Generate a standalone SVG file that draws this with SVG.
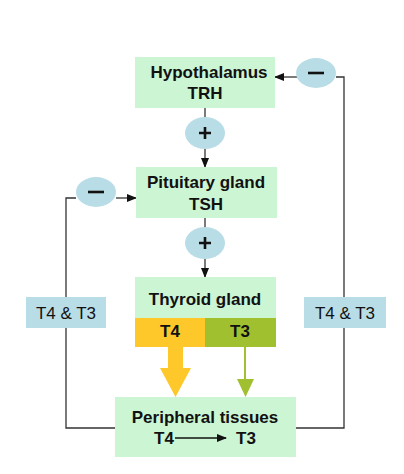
<svg xmlns="http://www.w3.org/2000/svg" width="404" height="474" viewBox="0 0 404 474">
<style>
.box{fill:#ccf5d4}
.oval{fill:#b9dde6}
.lbl{fill:#b9dde6}
.t{font-family:"Liberation Sans",Arial,sans-serif;font-weight:bold;font-size:17px;fill:#111;text-anchor:middle}
.r{font-family:"Liberation Sans",Arial,sans-serif;font-size:17px;fill:#111;text-anchor:middle}
.ln{stroke:#333;stroke-width:1.3;fill:none}
.sym{stroke:#111;stroke-width:2.6;fill:none}
</style>
<defs>
<marker id="ah" markerWidth="10" markerHeight="8" refX="9" refY="4" orient="auto" markerUnits="userSpaceOnUse">
<path d="M0,0 L10,4 L0,8 Z" fill="#111"/>
</marker>
</defs>
<rect width="404" height="474" fill="#fff"/>
<g id="connectors">
<path class="ln" d="M205,108 V117"/>
<path class="ln" d="M205,149 V167" marker-end="url(#ah)"/>
<path class="ln" d="M205,218 V228"/>
<path class="ln" d="M205,259 V277" marker-end="url(#ah)"/>
<path class="ln" d="M336,77 H344 V428 H296"/>
<path class="ln" d="M298,77 H275" marker-end="url(#ah)"/>
<path class="ln" d="M115,428 H66 V198 H76"/>
<path class="ln" d="M116,198 H136" marker-end="url(#ah)"/>
<path d="M168,347 H183 V368 H191 L175.5,397 L160,368 H168 Z" fill="#ffc82a"/>
<path d="M245,347 V380" stroke="#a0c030" stroke-width="2" fill="none"/>
<path d="M237,379 H254 L245.5,397 Z" fill="#a0c030"/>
</g>
<g id="hypothalamus">
<rect class="box" x="135" y="57" width="140" height="51"/>
<text class="t" x="209" y="78">Hypothalamus</text>
<text class="t" x="205" y="99">TRH</text>
</g>
<g id="minus-top">
<ellipse class="oval" cx="316" cy="73" rx="20" ry="15"/>
<path class="sym" d="M308,73 H324"/>
</g>
<g id="plus-1">
<ellipse class="oval" cx="205" cy="133" rx="20" ry="16"/>
<path class="sym" d="M199,133 H211 M205,127 V139"/>
</g>
<g id="pituitary">
<rect class="box" x="136" y="167" width="141" height="51"/>
<text class="t" x="206" y="188">Pituitary gland</text>
<text class="t" x="206" y="210">TSH</text>
</g>
<g id="minus-left">
<ellipse class="oval" cx="96" cy="192" rx="20" ry="15"/>
<path class="sym" d="M88,192 H104"/>
</g>
<g id="plus-2">
<ellipse class="oval" cx="205" cy="243" rx="20" ry="16"/>
<path class="sym" d="M199,243 H211 M205,237 V249"/>
</g>
<g id="thyroid">
<rect class="box" x="135" y="277" width="141" height="41"/>
<rect x="135" y="318" width="70" height="29" fill="#ffc82a"/>
<rect x="205" y="318" width="71" height="29" fill="#a0c030"/>
<text class="t" x="205" y="305">Thyroid gland</text>
<text class="t" x="170" y="337">T4</text>
<text class="t" x="240" y="337">T3</text>
</g>
<g id="label-left">
<rect class="lbl" x="26" y="297" width="80" height="31"/>
<text class="r" x="66" y="319">T4 &amp; T3</text>
</g>
<g id="label-right">
<rect class="lbl" x="304" y="297" width="82" height="31"/>
<text class="r" x="345" y="319">T4 &amp; T3</text>
</g>
<g id="peripheral">
<rect class="box" x="115" y="397" width="181" height="60"/>
<text class="t" x="205" y="423">Peripheral tissues</text>
<text class="t" x="164" y="444">T4</text>
<text class="t" x="246" y="444">T3</text>
<path d="M175,438 H226" stroke="#111" stroke-width="1.5" marker-end="url(#ah)"/>
</g>
</svg>
